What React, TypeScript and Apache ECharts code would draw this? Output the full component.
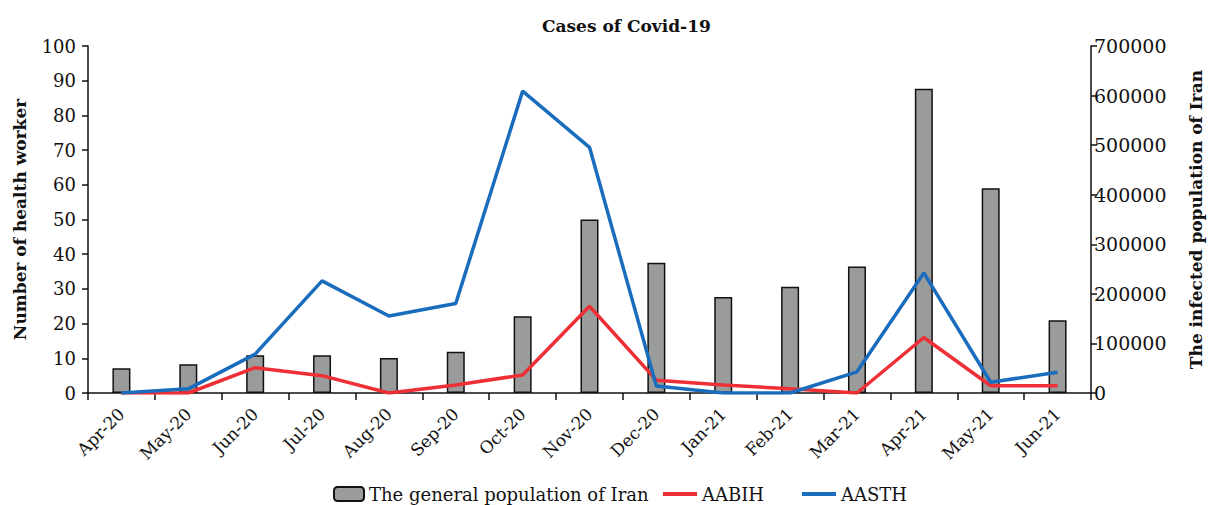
import React, { useEffect, useRef } from "react";
import * as echarts from "echarts";

const categories = ["Apr-20","May-20","Jun-20","Jul-20","Aug-20","Sep-20","Oct-20","Nov-20","Dec-20","Jan-21","Feb-21","Mar-21","Apr-21","May-21","Jun-21"];
const generalPopulation = [50000,58000,76000,76000,70500,83000,155000,350000,263000,193500,214500,255000,614000,413000,147000];
const aabih = [0,0,7.3,5,0,2.3,5.2,25,3.7,2.3,1.2,0,16,2.1,2.1];
const aasth = [0,1.2,11.2,32.3,22.2,25.8,87,70.8,2,0,0,6.1,34.6,3.1,6];
const leftTicks = { min: 0, max: 100, interval: 10 };
const rightTicks = { min: 0, max: 700000, interval: 100000 };

const FONT = "DejaVu Serif";

export default function App() {
  const ref = useRef<HTMLDivElement>(null);
  useEffect(() => {
    if (!ref.current) return;
    const chart = echarts.init(ref.current, null, { renderer: "svg" });
    const axisLine = { show: true, lineStyle: { color: "#111", width: 1.5 } };
    const axisTick = { show: true, length: 6, lineStyle: { color: "#111", width: 1.5 } };
    const legendText = { fontFamily: FONT, fontSize: 18, color: "#111" };
    chart.setOption({
      animation: false,
      backgroundColor: "#fff",
      title: {
        text: "Cases of Covid-19",
        left: 537,
        top: 12,
        textStyle: { fontFamily: FONT, fontWeight: "bold", fontSize: 17, color: "#111" },
      },
      grid: { left: 88, right: 114, top: 46, bottom: 112, containLabel: false },
      legend: [
        { data: ["The general population of Iran"], left: 328, top: 480, itemWidth: 30, itemHeight: 14, textStyle: legendText },
        { data: ["AABIH"], left: 656, top: 480, itemWidth: 34, itemHeight: 14, itemStyle: { opacity: 0 }, lineStyle: { width: 4 }, textStyle: legendText },
        { data: ["AASTH"], left: 795, top: 480, itemWidth: 34, itemHeight: 14, itemStyle: { opacity: 0 }, lineStyle: { width: 4 }, textStyle: legendText },
      ],
      xAxis: {
        type: "category",
        data: categories,
        boundaryGap: true,
        axisLine,
        axisTick: { ...axisTick, length: 7 },
        axisLabel: { rotate: 45, fontFamily: FONT, fontSize: 17, color: "#111", margin: 18, interval: 0 },
        splitLine: { show: false },
      },
      yAxis: [
        {
          type: "value",
          min: leftTicks.min,
          max: leftTicks.max,
          interval: leftTicks.interval,
          name: "Number of health worker",
          nameLocation: "middle",
          nameGap: 60,
          nameTextStyle: { fontFamily: FONT, fontWeight: "bold", fontSize: 17, color: "#111" },
          axisLine,
          axisTick,
          axisLabel: { fontFamily: FONT, fontSize: 18, color: "#111", margin: 12 },
          splitLine: { show: false },
        },
        {
          type: "value",
          min: rightTicks.min,
          max: rightTicks.max,
          interval: rightTicks.interval,
          name: "The infected population of Iran",
          nameLocation: "middle",
          nameGap: 96,
          nameRotate: 90,
          nameTextStyle: { fontFamily: FONT, fontWeight: "bold", fontSize: 17, color: "#111" },
          position: "right",
          axisLine,
          axisTick,
          axisLabel: { fontFamily: FONT, fontSize: 19, color: "#111", margin: 3, formatter: (v: number) => String(v) },
          splitLine: { show: false },
        },
      ],
      series: [
        {
          name: "The general population of Iran",
          type: "bar",
          yAxisIndex: 1,
          data: generalPopulation,
          barWidth: 18,
          itemStyle: { color: "#9a9c9c", borderColor: "#111", borderWidth: 1.5 },
        },
        {
          name: "AABIH",
          type: "line",
          yAxisIndex: 0,
          data: aabih,
          symbol: "none",
          lineStyle: { color: "#ee2f36", width: 3.5 },
          itemStyle: { color: "#ee2f36" },
        },
        {
          name: "AASTH",
          type: "line",
          yAxisIndex: 0,
          data: aasth,
          symbol: "none",
          lineStyle: { color: "#1a6dbd", width: 3.5 },
          itemStyle: { color: "#1a6dbd" },
        },
      ],
    });
    return () => chart.dispose();
  }, []);
  return <div ref={ref} style={{ width: 1212, height: 505, position: "absolute", left: 0, top: 0 }} />;
}
